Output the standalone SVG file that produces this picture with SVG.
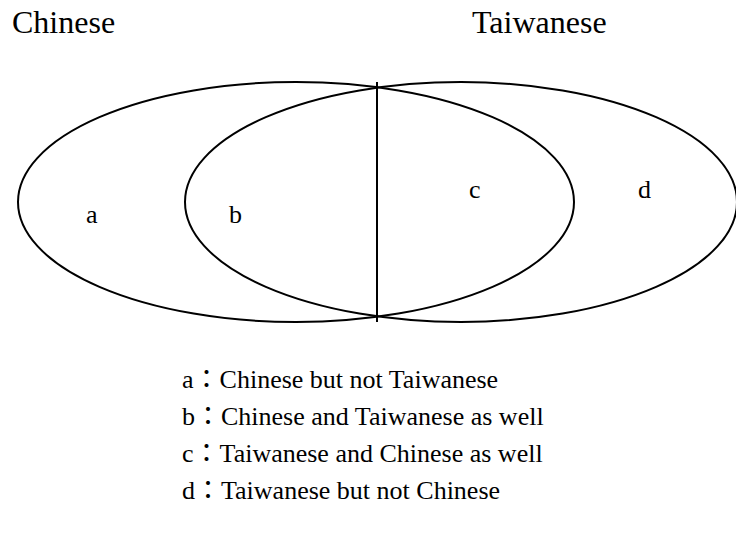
<svg xmlns="http://www.w3.org/2000/svg" width="736" height="535" viewBox="0 0 736 535">
  <style>
    .txt { font-family: "Times New Roman", "Liberation Serif", Tinos, "DejaVu Serif", serif; fill: #000; }
    .cjk { font-family: "Noto Sans CJK TC", "Noto Sans CJK SC", sans-serif; }
    .title { font-size: 32px; }
    .region { font-size: 26px; }
    .legend { font-size: 26px; }
    .shape { fill: none; stroke: #000; stroke-width: 2; }
  </style>
  <rect width="736" height="535" fill="#fff"/>

  <!-- set titles -->
  <text class="txt title" x="12" y="33">Chinese</text>
  <text class="txt title" x="472" y="33">Taiwanese</text>

  <!-- the two overlapping sets and the divider -->
  <g id="set-chinese">
    <ellipse class="shape" cx="296" cy="202" rx="278" ry="120"/>
  </g>
  <g id="set-taiwanese">
    <ellipse class="shape" cx="461" cy="202" rx="276" ry="120"/>
  </g>
  <g id="divider">
    <line class="shape" x1="377" y1="82" x2="377" y2="322"/>
  </g>

  <!-- region letters -->
  <text class="txt region" x="86" y="223">a</text>
  <text class="txt region" x="229" y="223">b</text>
  <text class="txt region" x="469" y="198">c</text>
  <text class="txt region" x="638" y="198">d</text>

  <!-- legend -->
  <g id="legend">
    <text class="txt legend" x="182" y="388">a<tspan class="cjk">：</tspan>Chinese but not Taiwanese</text>
    <text class="txt legend" x="182" y="425">b<tspan class="cjk">：</tspan>Chinese and Taiwanese as well</text>
    <text class="txt legend" x="182" y="462">c<tspan class="cjk">：</tspan>Taiwanese and Chinese as well</text>
    <text class="txt legend" x="182" y="499">d<tspan class="cjk">：</tspan>Taiwanese but not Chinese</text>
  </g>
</svg>
